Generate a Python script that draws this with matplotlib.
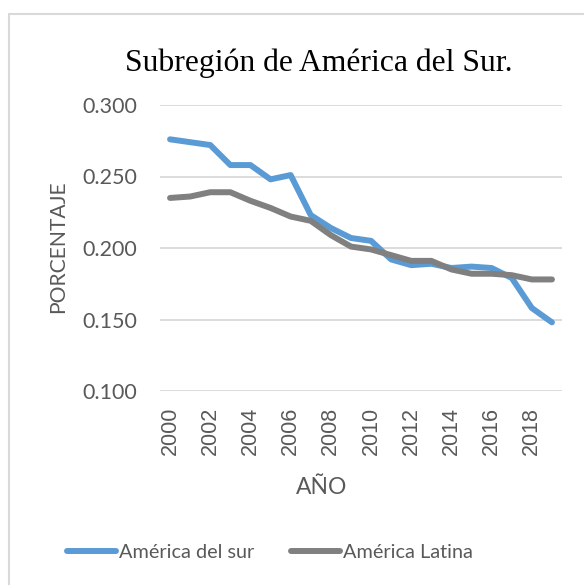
import matplotlib
matplotlib.use("Agg")
import matplotlib.pyplot as plt
from matplotlib.patches import Rectangle

# datos
anios = list(range(2000, 2020))
america_sur = [0.276, 0.274, 0.272, 0.258, 0.258, 0.248, 0.251, 0.223, 0.214, 0.207,
               0.205, 0.192, 0.188, 0.189, 0.186, 0.187, 0.186, 0.179, 0.158, 0.148]
america_latina = [0.235, 0.236, 0.239, 0.239, 0.233, 0.228, 0.222, 0.219, 0.209, 0.201,
                  0.199, 0.195, 0.191, 0.191, 0.185, 0.182, 0.182, 0.181, 0.178, 0.178]
ticks_x = list(range(2000, 2020, 2))
ticks_y = [0.100, 0.150, 0.200, 0.250, 0.300]

gris_txt = "#595959"
fuente = ["Lato", "DejaVu Sans"]

fig = plt.figure(figsize=(5.84, 5.85), dpi=100)
# borde del area del grafico
fig.patches.append(Rectangle((9 / 584, -0.1), 1.2, 1.1 - 14 / 585, transform=fig.transFigure,
                             fill=False, edgecolor="#d9d9d9", linewidth=1.5))

ax = fig.add_axes([160 / 584, 1 - 391 / 585, 402 / 584, 286 / 585])
ax.plot(anios, america_sur, color="#5b9bd5", linewidth=4.3, solid_capstyle="round",
        label="América del sur")
ax.plot(anios, america_latina, color="#808080", linewidth=4.3, solid_capstyle="round",
        label="América Latina")

ax.set_xlim(1999.5, 2019.5)
ax.set_ylim(0.1, 0.3)
ax.set_yticks(ticks_y)
ax.set_yticklabels(["%.3f" % v for v in ticks_y], family=fuente, fontsize=15.5, color=gris_txt)
ax.set_xticks(ticks_x)
ax.set_xticklabels([str(a) for a in ticks_x], rotation=90, family=["Liberation Sans"],
                   fontsize=15.5, color=gris_txt)
ax.tick_params(length=0)
ax.tick_params(axis="x", pad=11.5)
ax.tick_params(axis="y", pad=16.5)
ax.grid(axis="y", color="#d9d9d9", linewidth=1.3)
ax.set_axisbelow(True)
for s in ax.spines.values():
    s.set_visible(False)

ax.set_ylabel("PORCENTAJE", family=fuente, fontsize=15.2, color=gris_txt, va="center")
ax.yaxis.set_label_coords(-0.254, 0.503)
ax.set_xlabel("AÑO", family=fuente, fontsize=16.5, color=gris_txt, va="center")
ax.xaxis.set_label_coords(0.403, -0.339)

fig.text(319 / 584, 1 - 63 / 585, "Subregión de América del Sur.", family="Liberation Serif",
         fontsize=22.8, color="black", ha="center", va="center")

fig.legend(loc="center", bbox_to_anchor=(270 / 584, 1 - 552 / 585), ncol=2, frameon=False,
           prop={"family": fuente, "size": 14.3}, labelcolor=gris_txt, handlelength=2.46,
           handletextpad=0.15, columnspacing=1.86)

fig.savefig("out.png", dpi=100, facecolor="white")
